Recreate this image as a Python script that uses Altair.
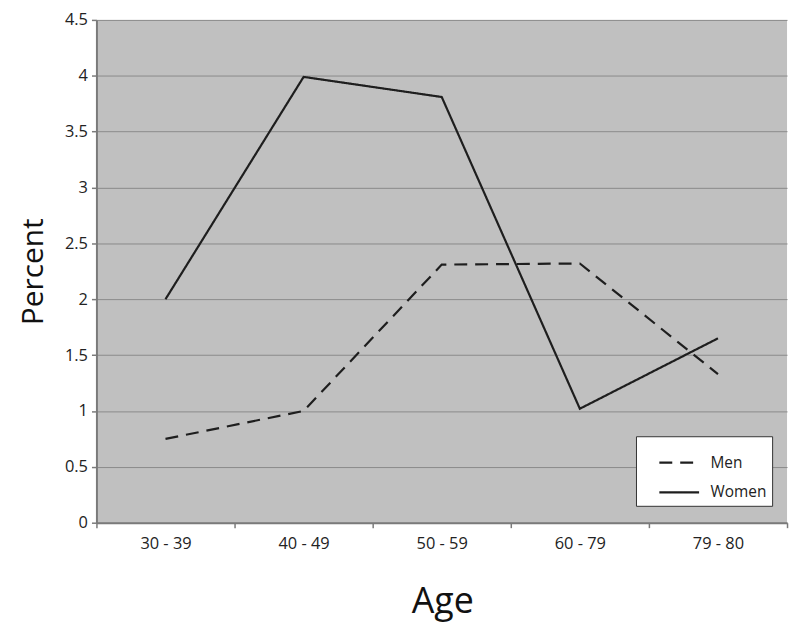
import altair as alt
import pandas as pd

categories = ["30 - 39", "40 - 49", "50 - 59", "60 - 79", "79 - 80"]
men = [0.75, 1.0, 2.31, 2.32, 1.33]
women = [2.0, 3.99, 3.81, 1.02, 1.65]
series = ["Men", "Women"]

rows = []
for c, m, w in zip(categories, men, women):
    rows.append({"Age": c, "Percent": m, "Sex": "Men"})
    rows.append({"Age": c, "Percent": w, "Sex": "Women"})
df = pd.DataFrame(rows)

FONT = "Open Sans"

chart = alt.Chart(df).mark_line(color="#1e1e1e", strokeWidth=2.2).encode(
    x=alt.X("Age:N", sort=categories,
            scale=alt.Scale(paddingInner=0, paddingOuter=0),
            axis=alt.Axis(title="Age", tickBand="extent", labelAngle=0,
                          titleX=348, titleY=79, titleBaseline="middle",
                          titleFontSize=36, titleFontWeight="normal",
                          labelFontSize=16.5, labelPadding=8)),
    y=alt.Y("Percent:Q", scale=alt.Scale(domain=[0, 4.5], nice=False),
            axis=alt.Axis(title="Percent", values=[0, 0.5, 1, 1.5, 2, 2.5, 3, 3.5, 4, 4.5],
                          format=".1~f", titleX=-63, titleY=253, titleAngle=-90,
                          titleAlign="center", titleBaseline="middle",
                          titleFontSize=30, titleFontWeight="normal",
                          labelFontSize=16.5, labelPadding=4)),
    strokeDash=alt.StrokeDash("Sex:N",
                              scale=alt.Scale(domain=series, range=[[13, 8], [1, 0]]),
                              legend=alt.Legend(title=None, orient="none", legendX=543, legendY=419,
                                                fillColor="white", strokeColor="#333",
                                                padding=5, symbolOffset=17, labelOffset=10,
                                                symbolType="stroke",
                                                symbolStrokeColor="#1e1e1e", symbolStrokeWidth=2.2,
                                                symbolSize=1600, labelFontSize=15.5,
                                                labelFont=FONT, labelColor="#222",
                                                rowPadding=-24, labelLimit=200)),
).properties(
    width=695, height=506,
    autosize=alt.AutoSizeParams(type="none"),
    padding={"left": 89, "top": 10, "right": 5, "bottom": 105},
).configure_view(
    fill="#c0c0c0", stroke=None
).configure_axis(
    labelFont=FONT, titleFont=FONT, labelColor="#222", titleColor="#111",
    domainColor="#7a7a7a", domainWidth=2, tickColor="#7a7a7a", tickWidth=1.5, tickSize=5,
    gridColor="#8a8a8a", gridWidth=1,
).configure_axisX(grid=False).configure_axisY(grid=True)

chart.save("out.html", embed_options={"renderer": "svg", "actions": False})
